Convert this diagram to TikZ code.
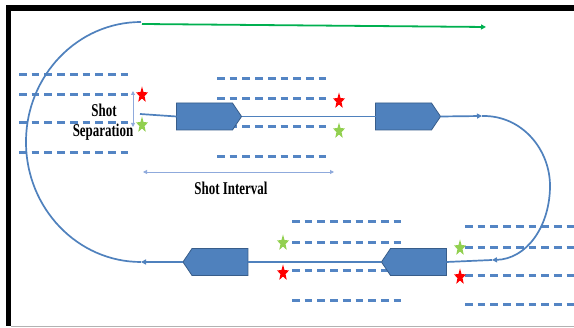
\documentclass[tikz,border=0pt]{standalone}
\usepackage{fontspec}
\usepackage{graphicx}
\setmainfont{Liberation Serif}
\usetikzlibrary{shapes.symbols,shapes.geometric,arrows.meta}
\definecolor{track}{RGB}{79,129,189}
\definecolor{boatedge}{RGB}{56,93,138}
\definecolor{streamer}{RGB}{84,133,196}
\definecolor{measure}{RGB}{143,170,220}
\definecolor{sailgreen}{RGB}{0,176,80}
\definecolor{shotred}{RGB}{255,0,0}
\definecolor{shotgreen}{RGB}{146,208,80}
\tikzset{
  boat/.style={signal, signal pointer angle=112, draw=boatedge, fill=track,
    line width=0.8pt, minimum width=65pt, minimum height=27pt,
    inner sep=0pt, outer sep=0pt},
  trackline/.style={draw=track, line width=1.7pt},
  tip/.style={-{Triangle[length=5pt,width=5pt]}},
  dashrow/.style={draw=streamer, line width=3pt, dash pattern=on 7.7pt off 5pt},
  measureline/.style={draw=measure, line width=0.9pt,
    {Triangle[length=4pt,width=4pt]}-{Triangle[length=4pt,width=4pt]}},
  source/.style={star, star points=5, star point ratio=2.4, minimum size=17pt,
    inner sep=0pt, xscale=0.75, transform shape},
  redshot/.style={source, fill=shotred},
  greenshot/.style={source, fill=shotgreen},
  caption/.style={inner sep=0pt, anchor=base,
    font=\fontsize{18}{20}\selectfont\bfseries}
}
\newcommand{\narrow}[1]{\scalebox{0.72}[1]{#1}}
\begin{document}
\begin{tikzpicture}[x=1pt,y=-1pt]
  \useasboundingbox (0,0) rectangle (574,328);
  \fill[white] (0,0) rectangle (574,328);
  % frame
  \fill[black] (6,5) rectangle (574,11);
  \fill[black] (6,5) rectangle (11,326);
  \draw[gray!60, line width=0.8pt] (11,326.5) -- (574,326.5);

  % streamer spreads behind the vessels
  \foreach \y in {75,95,123,153} \draw[dashrow] (19,\y) -- (130,\y);
  \foreach \y in {79,99,127,157} \draw[dashrow] (217,\y) -- (328,\y);
  \foreach \y in {222,243,271,301} \draw[dashrow] (292,\y) -- (403,\y);
  \foreach \y in {227,248,276,305} \draw[dashrow] (465,\y) -- (580,\y);

  % vessels
  \node[boat, signal to=east] (boat1) at (204.5,116.5) {};
  \node[boat, signal to=east] (boat2) at (403.5,116.5) {};
  \node[boat, signal to=west] (boat3) at (418.5,262) {};
  \node[boat, signal to=west] (boat4) at (220,262) {};

  % sail line
  \coordinate (topstart) at (140,114);
  \coordinate (topend) at (482,116);
  \coordinate (arcbr) at (492,260);
  \coordinate (arcbot) at (141,262);
  \coordinate (gstart) at (142,24);
  \coordinate (gend) at (486,27);

  \draw[trackline] (topstart) -- (boat1.west);
  \draw[trackline] (boat1.east) -- (boat2.west);
  \draw[trackline, tip] (boat2.east) -- (topend);
  \draw[trackline, tip] (topend) .. controls (522,115) and (551,150) .. (550,188)
     .. controls (549,228) and (526,259) .. (arcbr);
  \draw[trackline] (arcbr) -- (boat3.east);
  \draw[trackline] (boat3.west) -- (boat4.east);
  \draw[trackline, tip] (boat4.west) -- (arcbot);
  \draw[trackline] (arcbot) arc[start angle=-90, end angle=-270,
     x radius=115pt, y radius=120pt];
  \draw[sailgreen, line width=1.8pt, tip] (gstart) -- (gend);

  % shot points
  \node[redshot]   (s1) at (142,95) {};
  \node[greenshot] (s2) at (142,125) {};
  \node[redshot]   (s3) at (339,101) {};
  \node[greenshot] (s4) at (339,131) {};
  \node[greenshot] (s5) at (283,243) {};
  \node[redshot]   (s6) at (283,273) {};
  \node[greenshot] (s7) at (460,248) {};
  \node[redshot]   (s8) at (460,277) {};

  % measures
  \coordinate (sepa) at (133,91);
  \coordinate (sepb) at (133,127);
  \coordinate (inta) at (143,172);
  \coordinate (intb) at (334,172);
  \draw[measureline] (sepa) -- (sepb);
  \draw[measureline] (inta) -- (intb);

  \node[caption] (lshot) at (104,117) {\narrow{Shot}};
  \node[caption] (lsep) at (103,137) {\narrow{Separation}};
  \node[caption] (lint) at (231,195) {\narrow{Shot Interval}};
\end{tikzpicture}
\end{document}
